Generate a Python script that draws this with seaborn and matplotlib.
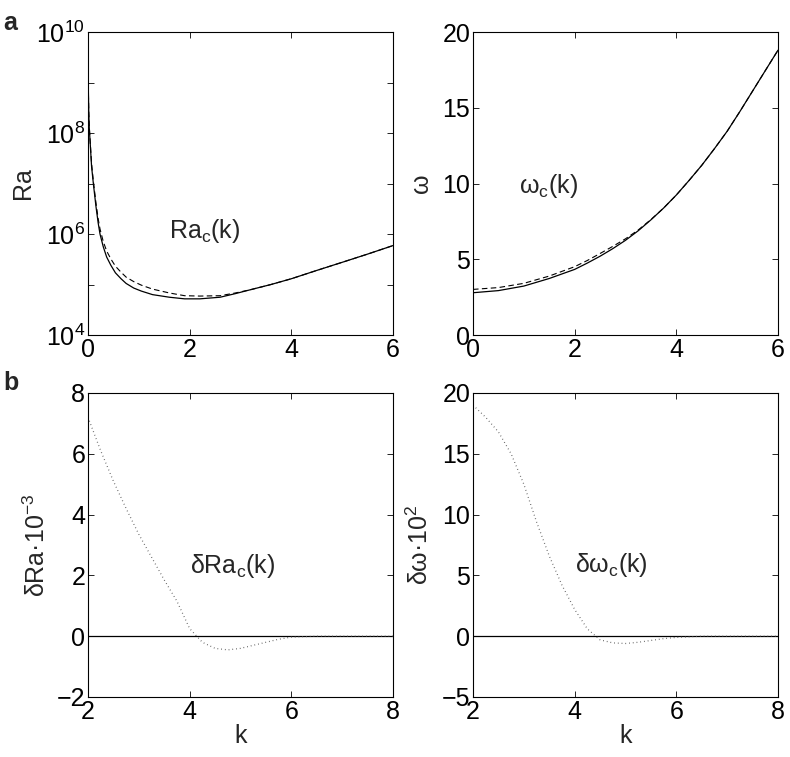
import numpy as np
import matplotlib
matplotlib.use("Agg")
import matplotlib.pyplot as plt
import seaborn as sns

# ---- data ----
# panel a, left: critical Rayleigh number vs k (log scale)
k_ra = [0.005, 0.015, 0.025, 0.04, 0.07, 0.105, 0.157, 0.2, 0.236, 0.3, 0.367, 0.45,
        0.54, 0.65, 0.75, 0.9, 1.05, 1.27, 1.6, 1.9, 2.2, 2.6, 2.9, 3.2, 3.6, 4.0,
        4.5, 5.0, 5.5, 6.0]
ra_solid = [8.9e8, 2.5e8, 1.26e8, 7.1e7, 2.2e7, 1.0e7, 3.5e6, 1.66e6, 1.0e6, 5.6e5,
            3.5e5, 2.4e5, 1.7e5, 1.3e5, 1.05e5, 8.5e4, 7.4e4, 6.3e4, 5.6e4, 5.2e4,
            5.2e4, 5.6e4, 6.6e4, 7.9e4, 1.0e5, 1.3e5, 1.9e5, 2.75e5, 4.0e5, 5.9e5]
ra_dashed = [8.9e8, 2.6e8, 1.35e8, 7.6e7, 2.5e7, 1.12e7, 4.1e6, 2.0e6, 1.26e6, 7.1e5,
             4.6e5, 3.2e5, 2.3e5, 1.75e5, 1.4e5, 1.14e5, 9.7e4, 8.1e4, 6.8e4, 6.0e4,
             5.9e4, 6.0e4, 6.8e4, 7.9e4, 1.0e5, 1.3e5, 1.9e5, 2.75e5, 4.0e5, 5.9e5]

# panel a, right: critical frequency vs k
k_om = [0, 0.5, 1.0, 1.5, 2.0, 2.25, 2.5, 2.75, 3.0, 3.25, 3.5, 3.75, 4.0, 4.25,
        4.5, 4.75, 5.0, 5.25, 5.5, 5.75, 6.0]
om_solid = [2.79, 2.93, 3.23, 3.73, 4.33, 4.75, 5.2, 5.7, 6.25, 6.88, 7.6, 8.38,
            9.24, 10.2, 11.2, 12.3, 13.45, 14.75, 16.1, 17.45, 18.8]
om_dashed = [3.01, 3.13, 3.41, 3.89, 4.51, 4.92, 5.38, 5.85, 6.35, 6.93, 7.62, 8.38,
             9.24, 10.2, 11.2, 12.3, 13.45, 14.75, 16.1, 17.45, 18.8]

# panel b: differences
k_d = [2.0, 2.25, 2.5, 2.75, 3.0, 3.25, 3.5, 3.75, 4.0, 4.25, 4.5, 4.75, 5.0,
       5.25, 5.5, 5.75, 6.0, 6.5, 7.0, 7.5, 8.0]
d_ra = [7.2, 6.1, 5.1, 4.2, 3.35, 2.6, 1.85, 1.15, 0.25, -0.2, -0.4, -0.45, -0.4,
        -0.3, -0.2, -0.1, -0.03, 0, 0, 0, 0]
d_om = [19.0, 18.0, 16.8, 15.0, 12.5, 9.4, 6.6, 4.2, 2.2, 0.6, -0.3, -0.55, -0.6,
        -0.5, -0.35, -0.2, -0.1, 0, 0, 0, 0]

# ---- style ----
sns.set_style("ticks")
plt.rcParams['font.family'] = ['Liberation Sans', 'DejaVu Sans']
plt.rcParams['mathtext.fontset'] = 'custom'
plt.rcParams['mathtext.rm'] = 'Liberation Sans'
plt.rcParams['mathtext.it'] = 'Liberation Sans:italic'
plt.rcParams['axes.linewidth'] = 0.8
plt.rcParams['axes.edgecolor'] = 'black'

FS = 18
W, H = 790, 757
fig = plt.figure(figsize=(W / 100, H / 100), dpi=100)

def box(l, t, r, b):
    return [l / W, 1 - b / H, (r - l) / W, (b - t) / H]

ax_ra = fig.add_axes(box(88, 32, 393, 335))
ax_om = fig.add_axes(box(473, 32, 778, 335))
ax_dra = fig.add_axes(box(88, 393, 393, 697))
ax_dom = fig.add_axes(box(473, 393, 778, 697))

for ax in (ax_ra, ax_om, ax_dra, ax_dom):
    ax.tick_params(direction='in', top=True, right=True, length=4, width=0.6,
                   labelsize=FS, colors='black', pad=2)
    for s in ax.spines.values():
        s.set_visible(True)
        s.set_color('black')

# ── Ra_c(k)
sns.lineplot(x=k_ra, y=ra_dashed, ax=ax_ra, color='k', lw=0.8, linestyle=(0, (5, 3)), sort=False)
sns.lineplot(x=k_ra, y=ra_solid, ax=ax_ra, color='k', lw=0.9, sort=False)
ax_ra.set_yscale('log')
ax_ra.set_xlim(0, 6)
ax_ra.set_ylim(1e4, 1e10)
ax_ra.set_xticks([0, 2, 4, 6])
ax_ra.set_yticks([10.0 ** e for e in range(4, 11)])
ax_ra.set_yticklabels(['$\\mathregular{10^{%d}}$' % e if e % 2 == 0 else '' for e in range(4, 11)])
ax_ra.yaxis.set_minor_locator(matplotlib.ticker.NullLocator())
ax_ra.set_ylabel('Ra', fontsize=FS)
ax_ra.yaxis.set_label_coords(-0.175, 0.5)
ax_ra.text(1.6, 8.3e5, 'Ra$_\\mathregular{c}$(k)', fontsize=FS)

# ── omega_c(k)
sns.lineplot(x=k_om, y=om_dashed, ax=ax_om, color='k', lw=0.8, linestyle=(0, (5, 3)), sort=False)
sns.lineplot(x=k_om, y=om_solid, ax=ax_om, color='k', lw=0.9, sort=False)
ax_om.set_xlim(0, 6)
ax_om.set_ylim(0, 20)
ax_om.set_xticks([0, 2, 4, 6])
ax_om.set_yticks([0, 5, 10, 15, 20])
ax_om.set_ylabel('ω', fontsize=FS)
ax_om.yaxis.set_label_coords(-0.13, 0.5)
ax_om.text(0.9, 9.4, 'ω$_\\mathregular{c}$(k)', fontsize=FS)

# ── delta Ra
ax_dra.axhline(0, color='k', lw=0.9)
sns.lineplot(x=k_d, y=d_ra, ax=ax_dra, color='0.3', lw=0.9, linestyle=(0, (0.6, 2.4)), sort=False)
ax_dra.set_xlim(2, 8)
ax_dra.set_ylim(-2, 8)
ax_dra.set_xticks([2, 4, 6, 8])
ax_dra.set_yticks([-2, 0, 2, 4, 6, 8])
ax_dra.set_xlabel('k', fontsize=FS, labelpad=0)
ax_dra.set_ylabel('δRa·10$^{\\mathregular{-3}}$', fontsize=FS)
ax_dra.yaxis.set_label_coords(-0.125, 0.5)
ax_dra.text(4.0, 2.08, 'δRa$_\\mathregular{c}$(k)', fontsize=FS)

# ── delta omega
ax_dom.axhline(0, color='k', lw=0.9)
sns.lineplot(x=k_d, y=d_om, ax=ax_dom, color='0.3', lw=0.9, linestyle=(0, (0.6, 2.4)), sort=False)
ax_dom.set_xlim(2, 8)
ax_dom.set_ylim(-5, 20)
ax_dom.set_xticks([2, 4, 6, 8])
ax_dom.set_yticks([-5, 0, 5, 10, 15, 20])
ax_dom.set_xlabel('k', fontsize=FS, labelpad=0)
ax_dom.set_ylabel('δω·10$^{\\mathregular{2}}$', fontsize=FS)
ax_dom.yaxis.set_label_coords(-0.13, 0.5)
ax_dom.text(4.0, 5.3, 'δω$_\\mathregular{c}$(k)', fontsize=FS)

# panel letters
fig.text(3 / W, 1 - 30 / H, 'a', fontsize=FS, fontweight='bold')
fig.text(3 / W, 1 - 390 / H, 'b', fontsize=FS, fontweight='bold')

fig.savefig('out.png', dpi=100, facecolor='white')
